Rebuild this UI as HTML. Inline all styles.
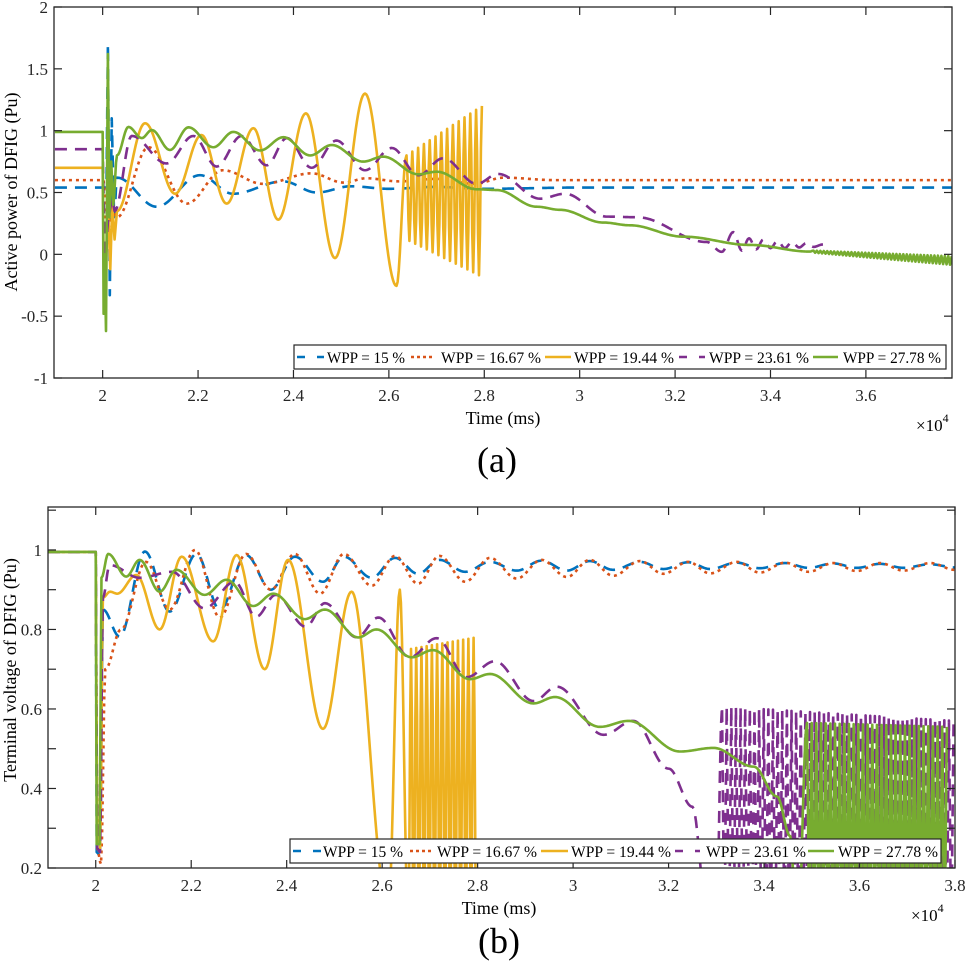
<!DOCTYPE html>
<html><head><meta charset="utf-8"><style>
html,body{margin:0;padding:0;background:#fff;}
svg{display:block;font-family:"Liberation Serif",serif;}
</style></head><body>
<svg id="fig" width="966" height="961" viewBox="0 0 966 961" xmlns="http://www.w3.org/2000/svg">
<defs>
<clipPath id="clipA"><rect x="54" y="7" width="898" height="371"/></clipPath>
<clipPath id="clipB"><rect x="48" y="507" width="907" height="361"/></clipPath>
</defs>
<g id="axA"></g>
<g id="axB"></g>
</svg>
<script>
// ---------- shared ----------
const seriesNames = ["WPP = 15 %","WPP = 16.67 %","WPP = 19.44 %","WPP = 23.61 %","WPP = 27.78 %"];
const seriesColors = ["#0072BD","#D95319","#EDB120","#7E2F8E","#77AC30"];
const seriesDash = ["12,8","3,4","","12,8",""];

// ---------- panel (a): active power, keypoints [t(x1e4 ms), value] ----------
const aTicksX = [2,2.2,2.4,2.6,2.8,3,3.2,3.4,3.6];
const aTickLabelsX = ["2","2.2","2.4","2.6","2.8","3","3.2","3.4","3.6"];
const aTicksY = [-1,-0.5,0,0.5,1,1.5,2];
const aTickLabelsY = ["-1","-0.5","0","0.5","1","1.5","2"];
const aBlue = [[1.9,0.54],[2.008,0.54],[2.011,1.7],[2.015,-0.33],[2.019,1.1],[2.024,0.3],[2.03,0.62],[2.113,0.385],[2.204,0.64],[2.273,0.49],[2.378,0.59],[2.449,0.5],[2.52,0.55],[2.6,0.53],[2.7,0.545],[2.8,0.53],[3.0,0.54],[3.78,0.54]];
const aOrange = [[1.9,0.6],[2.002,0.6],[2.008,0.15],[2.02,0.35],[2.03,0.3],[2.096,0.866],[2.176,0.41],[2.252,0.68],[2.336,0.57],[2.438,0.655],[2.505,0.58],[2.553,0.615],[2.62,0.59],[2.7,0.61],[2.78,0.57],[2.84,0.62],[2.95,0.6],[3.78,0.6]];
const aYellow = [[1.9,0.7],[2.0,0.7],[2.003,-0.35],[2.012,0.3],[2.016,-0.12],[2.02,0.4],[2.025,0.12],[2.03,0.35],[2.089,1.06],[2.152,0.49],[2.207,0.965],[2.26,0.41],[2.316,1.02],[2.368,0.28],[2.426,1.14],[2.487,-0.03],[2.55,1.3],[2.616,-0.255]];
const aYellowBurst = {t0:2.637,t1:2.795,n:13,hi:[0.8,1.2],lo:[0.12,-0.18],startLow:false};
const aPurple = [[1.9,0.85],[2.0,0.85],[2.005,-0.1],[2.012,0.3],[2.02,0.45],[2.025,0.35],[2.061,0.957],[2.134,0.735],[2.19,0.957],[2.239,0.71],[2.291,0.957],[2.344,0.72],[2.386,0.94],[2.438,0.7],[2.49,0.92],[2.55,0.68],[2.606,0.86],[2.662,0.64],[2.714,0.777],[2.784,0.57],[2.829,0.65],[2.917,0.45],[2.969,0.49],[3.057,0.305],[3.12,0.3],[3.266,0.1],[3.298,0.02],[3.322,0.18],[3.34,0.03],[3.355,0.13],[3.37,0.04],[3.385,0.12],[3.4,0.05],[3.415,0.11],[3.43,0.05],[3.445,0.1],[3.46,0.055],[3.475,0.09],[3.49,0.06],[3.51,0.08]];
const aGreen = [[1.9,0.99],[2.0,0.99],[2.002,-0.48],[2.004,0.0],[2.007,-0.62],[2.011,1.62],[2.014,0.3],[2.018,0.75],[2.022,0.4],[2.03,0.8],[2.054,1.03],[2.082,0.94],[2.103,1.005],[2.141,0.844],[2.18,1.027],[2.232,0.866],[2.274,0.99],[2.33,0.84],[2.379,0.947],[2.435,0.8],[2.48,0.884],[2.546,0.75],[2.588,0.79],[2.662,0.647],[2.7,0.668],[2.784,0.526],[2.826,0.52],[2.91,0.385],[2.959,0.36],[3.05,0.257],[3.105,0.235],[3.217,0.143],[3.357,0.076],[3.483,0.022]];
const aGreenBurst = {t0:3.49,t1:3.78,n:40,hi:[0.03,-0.015],lo:[0.014,-0.085],startLow:false};

// ---------- panel (b): terminal voltage ----------
const bTicksX = [2,2.2,2.4,2.6,2.8,3,3.2,3.4,3.6,3.8];
const bTickLabelsX = ["2","2.2","2.4","2.6","2.8","3","3.2","3.4","3.6","3.8"];
const bTicksY = [0.2,0.3,0.4,0.5,0.6,0.7,0.8,0.9,1.0,1.1];
const bTickLabelsY = ["0.2","","0.4","","0.6","","0.8","","1",""];
const bBlue = [[1.9,0.995],[2.0,0.995],[2.002,0.24],[2.009,0.23],[2.015,0.85],[2.05,0.782],[2.103,0.996],[2.155,0.845],[2.211,0.99],[2.26,0.85],[2.315,0.987],[2.367,0.9],[2.417,0.983],[2.476,0.92],[2.52,0.983],[2.578,0.93],[2.627,0.98],[2.675,0.94],[2.72,0.975],[2.774,0.945],[2.826,0.97],[2.882,0.948],[2.934,0.973],[2.987,0.948],[3.035,0.972],[3.084,0.95],[3.14,0.97],[3.189,0.952],[3.241,0.969],[3.287,0.952],[3.343,0.968],[3.391,0.954],[3.444,0.967],[3.493,0.955],[3.545,0.966],[3.594,0.955],[3.643,0.965],[3.692,0.955],[3.748,0.964],[3.8,0.956]];
const bOrange = [[1.9,0.995],[2.0,0.995],[2.003,0.25],[2.011,0.21],[2.02,0.7],[2.053,0.8],[2.105,0.97],[2.155,0.85],[2.208,1.0],[2.26,0.83],[2.315,0.99],[2.367,0.9],[2.417,0.99],[2.47,0.89],[2.52,0.99],[2.578,0.91],[2.627,0.985],[2.675,0.915],[2.72,0.985],[2.774,0.92],[2.826,0.98],[2.882,0.928],[2.934,0.975],[2.987,0.932],[3.035,0.975],[3.084,0.935],[3.14,0.972],[3.189,0.94],[3.241,0.97],[3.287,0.941],[3.343,0.97],[3.391,0.943],[3.444,0.968],[3.493,0.945],[3.545,0.967],[3.594,0.947],[3.643,0.967],[3.692,0.948],[3.748,0.967],[3.8,0.95]];
const bYellow = [[1.9,0.995],[2.0,0.995],[2.003,0.25],[2.009,0.24],[2.015,0.88],[2.03,0.895],[2.045,0.89],[2.085,0.937],[2.134,0.8],[2.18,0.983],[2.246,0.77],[2.295,0.987],[2.354,0.7],[2.403,0.975],[2.476,0.55],[2.536,0.895],[2.613,0.1],[2.637,0.9]];
const bYellowBurst = {t0:2.655,t1:2.797,n:13,hi:[0.75,0.78],lo:[0.05,0.05],startLow:true};
const bPurple = [[1.9,0.995],[2.0,0.995],[2.003,0.25],[2.009,0.24],[2.015,0.88],[2.029,0.962],[2.092,0.93],[2.16,0.945],[2.228,0.853],[2.291,0.92],[2.336,0.832],[2.377,0.887],[2.44,0.807],[2.48,0.866],[2.547,0.78],[2.592,0.83],[2.658,0.73],[2.714,0.778],[2.777,0.68],[2.836,0.72],[2.917,0.62],[2.966,0.656],[3.064,0.535],[3.126,0.57],[3.2,0.45],[3.25,0.354],[3.28,0.1],[3.3,0.05]];
const bPurpleBurst = {t0:3.312,t1:3.797,n:50,hi:[0.606,0.57],lo:[0.0,0.0],startLow:false};
const bGreen = [[1.9,0.995],[2.0,0.995],[2.002,0.26],[2.008,0.26],[2.012,0.93],[2.026,0.99],[2.064,0.933],[2.092,0.975],[2.134,0.895],[2.169,0.95],[2.228,0.887],[2.274,0.925],[2.33,0.859],[2.372,0.89],[2.438,0.826],[2.48,0.85],[2.55,0.78],[2.588,0.8],[2.662,0.73],[2.706,0.748],[2.784,0.675],[2.826,0.688],[2.917,0.614],[2.962,0.63],[3.056,0.555],[3.116,0.57],[3.224,0.493],[3.294,0.502],[3.378,0.455],[3.427,0.38],[3.455,0.28],[3.47,0.0]];
const bGreenBurst = {t0:3.49,t1:3.783,n:30,hi:[0.565,0.555],lo:[0.0,0.0],startLow:false};

const NS = "http://www.w3.org/2000/svg";
function mk(tag, attrs, parent){ const e=document.createElementNS(NS,tag); for(const k in attrs) e.setAttribute(k,attrs[k]); if(parent) parent.appendChild(e); return e; }

function expandBurst(b){
  const out=[]; const m=2*b.n;
  for(let i=0;i<=m;i++){
    const f=i/m, t=b.t0+(b.t1-b.t0)*f;
    const useLo = b.startLow ? (i%2===0) : (i%2===1);
    const r = useLo ? b.lo : b.hi;
    out.push([t, r[0]+(r[1]-r[0])*f]);
  }
  return out;
}

function pathFrom(keys, sx, sy){
  let d="M"+sx(keys[0][0]).toFixed(2)+","+sy(keys[0][1]).toFixed(2);
  for(let i=1;i<keys.length;i++){
    const [t0,v0]=keys[i-1],[t1,v1]=keys[i];
    const w=Math.abs(sx(t1)-sx(t0));
    const steps=Math.max(2,Math.ceil(w/1.2));
    for(let s=1;s<=steps;s++){
      const f=s/steps, g=(1-Math.cos(Math.PI*f))/2;
      d+="L"+sx(t0+(t1-t0)*f).toFixed(2)+","+sy(v0+(v1-v0)*g).toFixed(2);
    }
  }
  return d;
}

function drawAxes(g, cfg){
  const {x0,x1,y0,y1,tmin,tmax,vmin,vmax}=cfg;
  const sx=t=>x0+(t-tmin)/(tmax-tmin)*(x1-x0);
  const sy=v=>y1-(v-vmin)/(vmax-vmin)*(y1-y0);
  // series
  const sg=mk("g",{"clip-path":"url(#"+cfg.clip+")"},g);
  
  
  cfg.series.forEach((keys,i)=>{
    const p=mk("path",{d:pathFrom(keys,sx,sy),fill:"none",stroke:seriesColors[i],"stroke-width":2.6,"stroke-linejoin":"round"},sg);
    if(seriesDash[i]) p.setAttribute("stroke-dasharray",seriesDash[i]);
    
    
  });
  // box
  const box=mk("rect",{x:x0,y:y0,width:x1-x0,height:y1-y0,fill:"none",stroke:"#262626","stroke-width":1.3},g);
  
  
  // x ticks
  cfg.ticksX.forEach((t,i)=>{
    const x=sx(t);
    mk("line",{x1:x,x2:x,y1:y1,y2:y1-8,stroke:"#262626","stroke-width":1.2},g);
    mk("line",{x1:x,x2:x,y1:y0,y2:y0+8,stroke:"#262626","stroke-width":1.2},g);
    const tx=mk("text",{x:x,y:y1+23,"font-size":17,"text-anchor":"middle",fill:"#262626"},g);
    tx.textContent=cfg.labelsX[i];
    
    
  });
  cfg.ticksY.forEach((v,i)=>{
    const y=sy(v);
    mk("line",{x1:x0,x2:x0+8,y1:y,y2:y,stroke:"#262626","stroke-width":1.2},g);
    mk("line",{x1:x1,x2:x1-8,y1:y,y2:y,stroke:"#262626","stroke-width":1.2},g);
    if(cfg.labelsY[i]){
      const ty=mk("text",{x:x0-6,y:y+6,"font-size":17,"text-anchor":"end",fill:"#262626"},g);
      ty.textContent=cfg.labelsY[i];
      
      
    }
  });
  // legend
  const L=cfg.legend;
  const lg=mk("g",{},g);
  
  
  mk("rect",{x:L.x,y:L.y,width:L.w,height:24,fill:"#fff",stroke:"#262626","stroke-width":1.2},lg);
  L.items.forEach((it,i)=>{
    const e=mk("g",{},lg);
    
    
    const ln=mk("line",{x1:it[0],x2:it[1],y1:L.y+12,y2:L.y+12,stroke:seriesColors[i],"stroke-width":2.6},e);
    if(seriesDash[i]) ln.setAttribute("stroke-dasharray",i===1?"3,3":"8,12");
    const tx=mk("text",{x:it[2],y:L.y+18,"font-size":16,fill:"#000",textLength:it[3],lengthAdjust:"spacingAndGlyphs"},e);
    tx.textContent=seriesNames[i];
  });
}

const aSeries=[aBlue,aOrange,aYellow.concat(expandBurst(aYellowBurst)),aPurple,aGreen.concat(expandBurst(aGreenBurst))];
drawAxes(document.getElementById("axA"),{x0:54,x1:952,y0:7,y1:378,tmin:1.898,tmax:3.7805,vmin:-1,vmax:2,clip:"clipA",
  series:aSeries,ticksX:aTicksX,labelsX:aTickLabelsX,ticksY:aTicksY,labelsY:aTickLabelsY,
  legend:{x:294,y:345,w:652,items:[[297,324,327,78],[411,435,441,100],[545,571,574,100],[679,705,709,100],[813,838,843,98]]}});

const bSeries=[bBlue,bOrange,bYellow.concat(expandBurst(bYellowBurst)),bPurple.concat(expandBurst(bPurpleBurst)),bGreen.concat(expandBurst(bGreenBurst))];
drawAxes(document.getElementById("axB"),{x0:48,x1:955,y0:507,y1:868,tmin:1.9,tmax:3.8,vmin:0.2,vmax:1.108,clip:"clipB",
  series:bSeries,ticksX:bTicksX,labelsX:bTickLabelsX,ticksY:bTicksY,labelsY:bTickLabelsY,
  legend:{x:290,y:839,w:651,items:[[293,321,323,80],[410,432,437,100],[541,568,571,100],[675,700,706,100],[808,834,838,100]]}});
</script>
<svg width="0" height="0" style="position:absolute"></svg>
<div style="position:absolute;left:0;top:0;width:966px;height:961px;pointer-events:none;">
<svg width="966" height="961" xmlns="http://www.w3.org/2000/svg" style="font-family:'Liberation Serif',serif;">
  <text x="503" y="424" font-size="18" text-anchor="middle">Time (ms)</text>
  <text x="916" y="431" font-size="17">×10<tspan font-size="12" dy="-9">4</tspan></text>
  <text x="497" y="472" font-size="36" text-anchor="middle">(a)</text>
  <text transform="translate(17,192) rotate(-90)" font-size="18" text-anchor="middle">Active power of DFIG (Pu)</text>
  <text x="499" y="914" font-size="18" text-anchor="middle">Time (ms)</text>
  <text x="911" y="921" font-size="17">×10<tspan font-size="12" dy="-9">4</tspan></text>
  <text x="499" y="953" font-size="36" text-anchor="middle">(b)</text>
  <text transform="translate(16,670) rotate(-90)" font-size="18" text-anchor="middle">Terminal voltage of DFIG (Pu)</text>
</svg>
</div>
</body></html>
